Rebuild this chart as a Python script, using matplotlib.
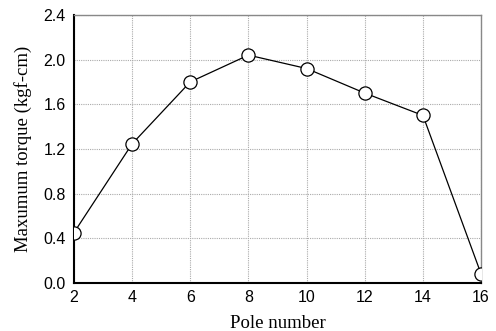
import matplotlib
matplotlib.use("Agg")
import matplotlib.pyplot as plt

pole_number = [2, 4, 6, 8, 10, 12, 14, 16]
max_torque = [0.45, 1.245, 1.80, 2.04, 1.92, 1.70, 1.50, 0.08]
x_ticks = [2, 4, 6, 8, 10, 12, 14, 16]
y_ticks = [0.0, 0.4, 0.8, 1.2, 1.6, 2.0, 2.4]

fig = plt.figure(figsize=(4.96, 3.31), dpi=100)
ax = fig.add_axes([0.149, 0.145, 0.821, 0.81])

ax.plot(pole_number, max_torque, color="black", linewidth=0.9,
        marker="o", markersize=9.5, markerfacecolor="white",
        markeredgecolor="black", markeredgewidth=0.9, zorder=3)

ax.set_xlim(2, 16)
ax.set_ylim(0, 2.4)
ax.set_xticks(x_ticks)
ax.set_yticks(y_ticks)
ax.set_yticklabels([f"{v:.1f}" for v in y_ticks])
ax.grid(True, color="#aaaaaa", linestyle=(0, (1, 1)), linewidth=0.8)
ax.set_axisbelow(True)

for lab in ax.get_xticklabels() + ax.get_yticklabels():
    lab.set_fontfamily("Liberation Sans")
    lab.set_fontsize(11.5)
ax.tick_params(axis="x", length=0, pad=5)
ax.tick_params(axis="y", length=0, pad=6)

ax.spines["left"].set_color("black")
ax.spines["left"].set_linewidth(1.5)
ax.spines["bottom"].set_color("black")
ax.spines["bottom"].set_linewidth(1.5)
ax.spines["top"].set_color("#888888")
ax.spines["right"].set_color("#888888")
ax.spines["top"].set_linewidth(1.0)
ax.spines["right"].set_linewidth(1.0)

ax.set_xlabel("Pole number", fontfamily="Liberation Serif", fontsize=13.5, labelpad=7)
ax.set_ylabel("Maxumum torque (kgf-cm)", fontfamily="Liberation Serif", fontsize=13.5, labelpad=8)

fig.savefig("out.png", dpi=100)
